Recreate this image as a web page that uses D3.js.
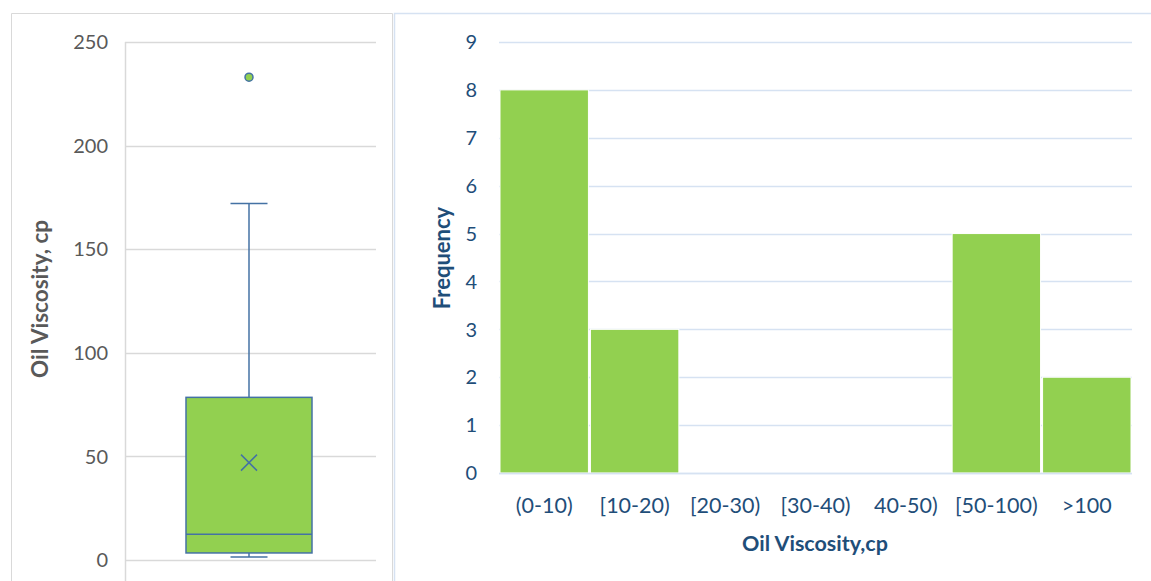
<!DOCTYPE html>
<html>
<head>
<meta charset="utf-8">
<script src="https://cdn.jsdelivr.net/npm/d3@7"></script>
<style>
  body { margin: 0; background: #fff; }
  svg { display: block; font-family: Lato, "Open Sans", sans-serif; }
</style>
</head>
<body>
<svg id="chart" width="1151" height="581"></svg>
<script>
// box plot summary (oil viscosity, cp)
var boxStats = { min: 1.5, q1: 3.4, median: 12.4, q3: 78.5, max: 172, mean: 47 };
var outliers = [233];
var boxTicks = [0, 50, 100, 150, 200, 250];

// histogram
var bins = ['(0-10)', '[10-20)', '[20-30)', '[30-40)', '40-50)', '[50-100)', '>100'];
var counts = [8, 3, 0, 0, 0, 5, 2];
var freqTicks = [0, 1, 2, 3, 4, 5, 6, 7, 8, 9];

var svg = d3.select('#chart');
var grey = '#595959', navy = '#1F4E79', green = '#92D050', boxLine = '#4472A4';

// ---------------- panel frames
svg.append('path')
  .attr('d', 'M11.5,581 V13.5 H392.5 V581')
  .attr('fill', 'none').attr('stroke', '#D9D9D9');
svg.append('path')
  .attr('d', 'M394.5,581 V13.5 H1151')
  .attr('fill', 'none').attr('stroke', '#D6E2F2').attr('stroke-width', 1.5);

// ---------------- left: box plot
var yB = d3.scaleLinear().domain([0, 250]).range([560, 42]);
var xL = 125, xR = 376, cx = 249;
var left = svg.append('g');

left.selectAll('.grid').data(boxTicks).enter().append('line')
  .attr('x1', xL).attr('x2', xR)
  .attr('y1', function(d) { return Math.round(yB(d)) + 0.5; })
  .attr('y2', function(d) { return Math.round(yB(d)) + 0.5; })
  .attr('stroke', '#D9D9D9').attr('stroke-width', 1.5);
left.append('line')
  .attr('x1', xL + 0.5).attr('x2', xL + 0.5).attr('y1', 42).attr('y2', 581)
  .attr('stroke', '#D9D9D9').attr('stroke-width', 1.5);

left.selectAll('.tick').data(boxTicks).enter().append('text')
  .attr('x', 108).attr('y', function(d) { return yB(d); })
  .attr('dy', '0.36em').attr('text-anchor', 'end')
  .attr('fill', grey).style('font-size', '20px')
  .text(function(d) { return d; });

left.append('text')
  .attr('transform', 'translate(48,299) rotate(-90)')
  .attr('text-anchor', 'middle')
  .attr('fill', grey).style('font-size', '22.5px').style('font-weight', 'bold')
  .text('Oil Viscosity, cp');

// whiskers
var capW = 37, boxW = 126;
left.append('line').attr('x1', cx).attr('x2', cx)
  .attr('y1', yB(boxStats.max)).attr('y2', yB(boxStats.q3))
  .attr('stroke', boxLine).attr('stroke-width', 1.5);
left.append('line').attr('x1', cx).attr('x2', cx)
  .attr('y1', yB(boxStats.q1)).attr('y2', yB(boxStats.min))
  .attr('stroke', boxLine).attr('stroke-width', 1.5);
[boxStats.max, boxStats.min].forEach(function(v) {
  left.append('line').attr('x1', cx - capW / 2).attr('x2', cx + capW / 2)
    .attr('y1', yB(v)).attr('y2', yB(v))
    .attr('stroke', boxLine).attr('stroke-width', 1.5);
});
left.append('rect')
  .attr('x', cx - boxW / 2).attr('width', boxW)
  .attr('y', yB(boxStats.q3)).attr('height', yB(boxStats.q1) - yB(boxStats.q3))
  .attr('fill', green).attr('stroke', boxLine).attr('stroke-width', 1.5);
left.append('line').attr('x1', cx - boxW / 2).attr('x2', cx + boxW / 2)
  .attr('y1', yB(boxStats.median)).attr('y2', yB(boxStats.median))
  .attr('stroke', boxLine).attr('stroke-width', 1.5);
// mean marker
var my = yB(boxStats.mean), s = 8;
left.append('path')
  .attr('d', 'M' + (cx - s) + ',' + (my - s) + 'L' + (cx + s) + ',' + (my + s) +
             'M' + (cx + s) + ',' + (my - s) + 'L' + (cx - s) + ',' + (my + s))
  .attr('stroke', boxLine).attr('stroke-width', 1.5);
left.selectAll('.out').data(outliers).enter().append('circle')
  .attr('cx', cx).attr('cy', function(d) { return yB(d); }).attr('r', 4)
  .attr('fill', green).attr('stroke', boxLine).attr('stroke-width', 1.5);

// ---------------- right: histogram
var yF = d3.scaleLinear().domain([0, 9]).range([473, 42]);
var xF = d3.scaleBand().domain(bins).range([499, 1132]).paddingInner(0).paddingOuter(0);
var right = svg.append('g');

right.selectAll('.grid').data(freqTicks).enter().append('line')
  .attr('x1', 499).attr('x2', 1132)
  .attr('y1', function(d) { return Math.round(yF(d)) + 0.5; })
  .attr('y2', function(d) { return Math.round(yF(d)) + 0.5; })
  .attr('stroke', '#D6E2F2').attr('stroke-width', 1.5);

right.selectAll('.bar').data(counts).enter().append('rect')
  .attr('x', function(d, i) { return xF(bins[i]) + 1; })
  .attr('width', xF.bandwidth() - 2)
  .attr('y', function(d) { return yF(d); })
  .attr('height', function(d) { return yF(0) - yF(d); })
  .attr('fill', green).attr('stroke', '#fff').attr('stroke-width', 1);

right.append('line')
  .attr('x1', 499).attr('x2', 1132).attr('y1', 473.5).attr('y2', 473.5)
  .attr('stroke', '#D6E2F2').attr('stroke-width', 1.5);

right.selectAll('.tick').data(freqTicks).enter().append('text')
  .attr('x', 477).attr('y', function(d) { return yF(d); })
  .attr('dy', '0.36em').attr('text-anchor', 'end')
  .attr('fill', navy).style('font-size', '20px')
  .text(function(d) { return d; });

right.selectAll('.xl').data(bins).enter().append('text')
  .attr('x', function(d) { return xF(d) + xF.bandwidth() / 2; })
  .attr('y', 505).attr('dy', '0.36em').attr('text-anchor', 'middle')
  .attr('fill', navy).style('font-size', '21.5px')
  .text(function(d) { return d; });

right.append('text')
  .attr('x', 815).attr('y', 543).attr('dy', '0.36em').attr('text-anchor', 'middle')
  .attr('fill', navy).style('font-size', '21.5px').style('font-weight', 'bold')
  .text('Oil Viscosity,cp');

right.append('text')
  .attr('transform', 'translate(450,258) rotate(-90)')
  .attr('text-anchor', 'middle')
  .attr('fill', navy).style('font-size', '22px').style('font-weight', 'bold')
  .text('Frequency');
</script>
</body>
</html>
